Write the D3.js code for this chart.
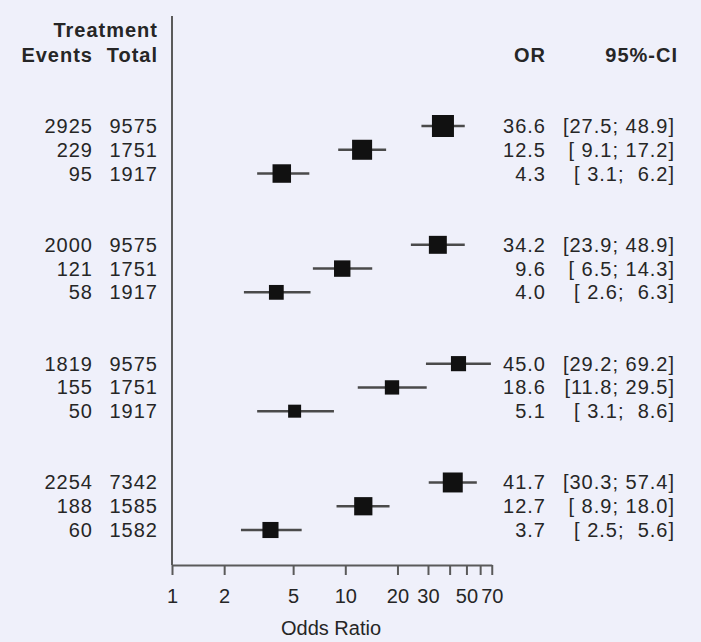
<!DOCTYPE html>
<html>
<head>
    <meta charset="utf-8">
    <script src="https://d3js.org/d3.v7.min.js"></script>
    <style>
        body { margin: 0; background: #eff0fa; }
        text { font-family: "Liberation Sans", Arial, sans-serif; fill: #262626; }
    </style>
</head>
<body>
    <div id="my_dataviz"></div>
    <script>

        // data (4 groups of 3 studies)
        var events = [2925, 229, 95, 2000, 121, 58, 1819, 155, 50, 2254, 188, 60];
        var totals = [9575, 1751, 1917, 9575, 1751, 1917, 9575, 1751, 1917, 7342, 1585, 1582];
        var oddsRatio = [36.6, 12.5, 4.3, 34.2, 9.6, 4.0, 45.0, 18.6, 5.1, 41.7, 12.7, 3.7];
        var ciLower = [27.5, 9.1, 3.1, 23.9, 6.5, 2.6, 29.2, 11.8, 3.1, 30.3, 8.9, 2.5];
        var ciUpper = [48.9, 17.2, 6.2, 48.9, 14.3, 6.3, 69.2, 29.5, 8.6, 57.4, 18.0, 5.6];
        var tickValues = [1, 2, 5, 10, 20, 30, 40, 50, 60, 70];
        var tickLabels = ["1", "2", "5", "10", "20", "30", "", "50", "", "70"];

        var width = 701, height = 642;

        var svg = d3.select("#my_dataviz")
            .append("svg")
            .attr("width", width)
            .attr("height", height);

        svg.append("rect")
            .attr("width", width)
            .attr("height", height)
            .attr("fill", "#eff0fa");

        // rows: 3 per group, 2 blank slots between groups
        var rows = events.map(function (e, i) {
            var g = Math.floor(i / 3);
            return {
                slot: g * 5 + (i % 3),
                events: e, total: totals[i],
                or: oddsRatio[i], lo: ciLower[i], hi: ciUpper[i],
                prec: 2 * 1.96 / Math.log(ciUpper[i] / ciLower[i])
            };
        });

        var x = d3.scaleLog().domain([1, 70]).range([172, 172 + 173.3 * Math.log10(70)]);
        var y = d3.scaleLinear().domain([0, 17]).range([126, 530]);
        var box = d3.scaleLinear().domain(d3.extent(rows, function (d) { return d.prec; })).range([13, 22]);

        var axisY = 565;

        // vertical reference line at OR = 1
        svg.append("line")
            .attr("x1", x(1)).attr("x2", x(1))
            .attr("y1", 16).attr("y2", axisY)
            .attr("stroke", "#5a5a5a").attr("stroke-width", 2);

        // x axis
        var axis = svg.append("g")
            .attr("transform", "translate(0," + axisY + ")")
            .call(d3.axisBottom(x).tickValues(tickValues)
                .tickFormat(function (d, i) { return tickLabels[i]; })
                .tickSizeInner(10).tickSizeOuter(0).tickPadding(14));
        axis.select(".domain").attr("stroke", "#5a5a5a").attr("stroke-width", 2);
        axis.selectAll(".tick line").attr("stroke", "#5a5a5a").attr("stroke-width", 2);
        axis.selectAll(".tick text")
            .attr("font-size", 20)
            .attr("fill", "#262626")
            .style("font-family", "'Liberation Sans', Arial, sans-serif");

        svg.append("text")
            .attr("x", 331).attr("y", 628).attr("dy", "0.35em")
            .attr("text-anchor", "middle")
            .attr("font-size", 20)
            .text("Odds Ratio");

        // CI lines
        svg.selectAll(".ci")
            .data(rows).enter()
            .append("line")
            .attr("x1", function (d) { return x(d.lo); })
            .attr("x2", function (d) { return x(d.hi); })
            .attr("y1", function (d) { return y(d.slot); })
            .attr("y2", function (d) { return y(d.slot); })
            .attr("stroke", "#4a4a4a").attr("stroke-width", 2.5);

        // squares
        svg.selectAll(".box")
            .data(rows).enter()
            .append("rect")
            .attr("x", function (d) { return x(d.or) - box(d.prec) / 2; })
            .attr("y", function (d) { return y(d.slot) - box(d.prec) / 2; })
            .attr("width", function (d) { return box(d.prec); })
            .attr("height", function (d) { return box(d.prec); })
            .attr("fill", "#111");

        // headers
        function header(txt, xx, yy) {
            svg.append("text")
                .attr("x", xx).attr("y", yy).attr("dy", "0.35em")
                .attr("text-anchor", "end")
                .attr("font-size", 20).attr("font-weight", "bold")
                .style("letter-spacing", "1px")
                .text(txt);
        }
        header("Treatment", 158, 30);
        header("Events", 93, 55);
        header("Total", 158, 55);
        header("OR", 546, 55);
        header("95%-CI", 678, 55);

        // text columns
        function pad(v) {
            var s = v.toFixed(1);
            return s.length < 4 ? " " + s : s;
        }
        function column(fn, xx) {
            svg.selectAll(null)
                .data(rows).enter()
                .append("text")
                .attr("x", xx)
                .attr("y", function (d) { return y(d.slot); })
                .attr("dy", "0.35em")
                .attr("text-anchor", "end")
                .attr("font-size", 20)
                .style("letter-spacing", "1px")
                .style("white-space", "pre")
                .text(fn);
        }
        column(function (d) { return d.events; }, 93);
        column(function (d) { return d.total; }, 158);
        column(function (d) { return d.or.toFixed(1); }, 546);
        column(function (d) { return "[" + pad(d.lo) + "; " + pad(d.hi) + "]"; }, 675);

    </script>
</body>
</html>
